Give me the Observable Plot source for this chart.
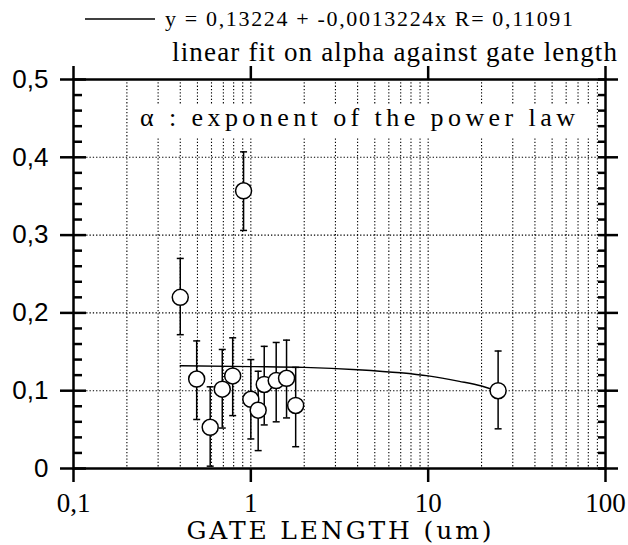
<!DOCTYPE html>
<html><head><meta charset="utf-8">
<script src="https://cdn.jsdelivr.net/npm/d3@7"></script>
<script src="https://cdn.jsdelivr.net/npm/@observablehq/plot@0.6"></script>
<style>body{margin:0;background:#fff} #chart svg{display:block}</style>
</head><body><div id="chart"></div>
<script>
// measured points (gate length in um, alpha, error bar top / bottom)
const gateLength = [0.40, 0.495, 0.59, 0.69, 0.79, 0.91, 1.0, 1.1, 1.19, 1.39, 1.59, 1.79, 24.8];
const alpha      = [0.220, 0.115, 0.053, 0.102, 0.119, 0.357, 0.089, 0.075, 0.108, 0.113, 0.116, 0.081, 0.100];
const alphaHi    = [0.270, 0.164, 0.105, 0.153, 0.168, 0.407, 0.140, 0.125, 0.157, 0.162, 0.165, 0.130, 0.151];
const alphaLo    = [0.172, 0.063, 0.003, 0.052, 0.068, 0.306, 0.038, 0.023, 0.056, 0.060, 0.065, 0.028, 0.051];
// linear fit curve
const fitX = [0.4, 1, 2, 4, 7, 10, 15, 20, 25];
const fitY = [0.132, 0.131, 0.130, 0.127, 0.123, 0.119, 0.112, 0.106, 0.099];
// ticks
const xTicks = [0.1, 1, 10, 100];
const xTickLabels = ["0,1", "1", "10", "100"];
const xGrid = [0.2,0.3,0.4,0.5,0.6,0.7,0.8,0.9,1,2,3,4,5,6,7,8,9,10,20,30,40,50,60,70,80,90];
const yTicks = [0, 0.1, 0.2, 0.3, 0.4, 0.5];
const yTickLabels = ["0", "0,1", "0,2", "0,3", "0,4", "0,5"];
const yGrid = [0.1, 0.2, 0.3, 0.4];
const yMinor = [0.02,0.04,0.06,0.08,0.12,0.14,0.16,0.18,0.22,0.24,0.26,0.28,0.32,0.34,0.36,0.38,0.42,0.44,0.46,0.48];
// texts
const legendText = "y = 0,13224 + -0,0013224x R= 0,11091";
const legendSub = "linear fit on alpha against gate length";
const boxText = "\u03B1 : exponent of the power law";
const xLabel = "GATE LENGTH (um)";

const points = gateLength.map((x, i) => ({x, y: alpha[i], hi: alphaHi[i], lo: alphaLo[i]}));
const fit = fitX.map((x, i) => ({x, y: fitY[i]}));
const capSymbol = {draw(ctx, size) { const w = Math.sqrt(size / Math.PI); ctx.moveTo(-w, 0); ctx.lineTo(w, 0); }};
const serif = "Liberation Serif, Times New Roman, serif";

function whiteBox(index, scales, values, dims) {
  const g = d3.create("svg:g");
  g.append("rect")
    .attr("x", dims.marginLeft + 57).attr("y", dims.marginTop + 26)
    .attr("width", dims.width - dims.marginRight - 12 - (dims.marginLeft + 57))
    .attr("height", 32).attr("fill", "white");
  g.append("text").attr("x", 140).attr("y", 126).attr("text-anchor", "start")
    .attr("font-family", serif).attr("font-size", 26).attr("fill", "black")
    .attr("textLength", 435).attr("lengthAdjust", "spacing")
    .text(boxText);
  return g.node();
}

function annotations(index, scales, values, dims) {
  const g = d3.create("svg:g").attr("text-anchor", "start").attr("fill", "black");
  g.append("line").attr("x1", 85).attr("x2", 155).attr("y1", 19).attr("y2", 19)
    .attr("stroke", "black").attr("stroke-width", 1.3);
  g.append("text").attr("x", 165).attr("y", 26).attr("text-anchor", "start")
    .attr("font-family", serif).attr("font-size", 22)
    .attr("textLength", 408).attr("lengthAdjust", "spacing").text(legendText);
  g.append("text").attr("x", 172).attr("y", 61).attr("text-anchor", "start")
    .attr("font-family", serif).attr("font-size", 27)
    .attr("textLength", 445).attr("lengthAdjust", "spacing").text(legendSub);
  const cx = (dims.marginLeft + dims.width - dims.marginRight) / 2;
  g.append("text").attr("x", cx).attr("y", 539).attr("text-anchor", "middle")
    .attr("font-family", "DejaVu Serif, serif").attr("font-size", 25)
    .attr("textLength", 305).attr("lengthAdjust", "spacing").text(xLabel);
  return g.node();
}

const chart = Plot.plot({
  width: 628, height: 545,
  marginLeft: 73, marginRight: 23, marginTop: 79, marginBottom: 77,
  style: {background: "white", color: "black"},
  x: {type: "log", domain: [0.1, 100], axis: null},
  y: {domain: [0, 0.5], axis: null},
  marks: [
    Plot.ruleX(xGrid, {x: d => d, stroke: "black", strokeWidth: 1.1, strokeDasharray: "1.3 2"}),
    Plot.ruleY(yGrid, {y: d => d, stroke: "black", strokeWidth: 1.1, strokeDasharray: "1.3 2"}),
    whiteBox,
    Plot.line(fit, {x: "x", y: "y", stroke: "black", strokeWidth: 1.4, curve: "monotone-x"}),
    Plot.ruleX(points, {x: "x", y1: "lo", y2: "hi", stroke: "black", strokeWidth: 1.5}),
    Plot.dot(points, {x: "x", y: "hi", symbol: capSymbol, r: 3.5, stroke: "black", strokeWidth: 1.5, fill: "none"}),
    Plot.dot(points, {x: "x", y: "lo", symbol: capSymbol, r: 3.5, stroke: "black", strokeWidth: 1.5, fill: "none"}),
    Plot.dot(points, {x: "x", y: "y", r: 8, fill: "white", stroke: "black", strokeWidth: 1.5}),
    // left axis
    Plot.axisY({anchor: "left", ticks: yTicks, tickSize: 13, tickPadding: 12, strokeWidth: 2.5,
      tickFormat: (d) => yTickLabels[yTicks.indexOf(d)], fontSize: 26, fontFamily: "Liberation Sans, Arial, sans-serif", label: null}),
    Plot.axisY({anchor: "left", ticks: yTicks, tickSize: -13, strokeWidth: 2.5, tickFormat: () => "", label: null}),
    Plot.axisY({anchor: "left", ticks: yMinor, tickSize: -9, strokeWidth: 2.5, tickFormat: () => "", label: null}),
    // right axis
    Plot.axisY({anchor: "right", ticks: yTicks, tickSize: 12, strokeWidth: 2.5, tickFormat: () => "", label: null}),
    Plot.axisY({anchor: "right", ticks: yTicks, tickSize: -8, strokeWidth: 2.5, tickFormat: () => "", label: null}),
    Plot.axisY({anchor: "right", ticks: yMinor, tickSize: -8, strokeWidth: 2.5, tickFormat: () => "", label: null}),
    // bottom / top axes
    Plot.axisX({anchor: "bottom", ticks: xTicks, tickSize: 14, tickPadding: 10, strokeWidth: 2.5,
      tickFormat: (d) => xTickLabels[xTicks.indexOf(d)], fontSize: 27, fontFamily: serif, label: null}),
    Plot.axisX({anchor: "top", ticks: xTicks, tickSize: 14, strokeWidth: 2.5, tickFormat: () => "", label: null}),
    Plot.frame({stroke: "black", strokeWidth: 2.5}),
    annotations
  ]
});
document.getElementById("chart").appendChild(chart);
</script>
</body></html>
